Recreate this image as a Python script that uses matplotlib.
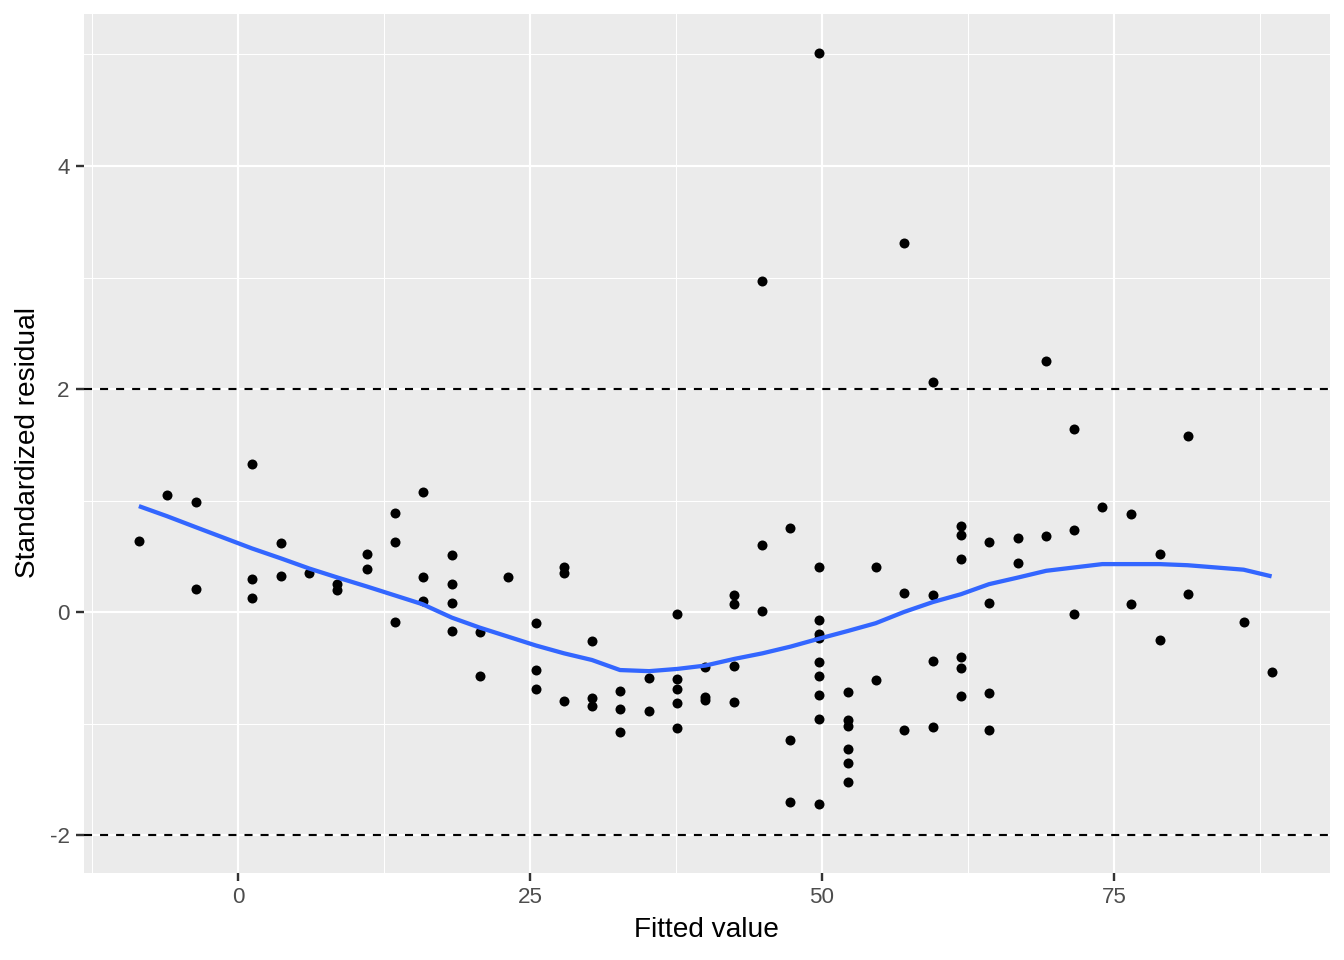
import numpy as np
import matplotlib
matplotlib.use("Agg")
import matplotlib.pyplot as plt
from matplotlib.ticker import FixedLocator

plt.rcParams['font.family'] = ['Liberation Sans', 'DejaVu Sans']
plt.rcParams['axes.unicode_minus'] = False

# residuals grouped by fitted value
fitted_levels = [-8.5, -6.1, -3.6, 1.2, 3.7, 6.1, 8.5, 11.0, 13.4, 15.8, 18.3, 20.7,
                 23.1, 25.5, 27.9, 30.3, 32.7, 35.2, 37.6, 40.0, 42.5, 44.9, 47.3,
                 49.7, 52.2, 54.6, 57.0, 59.5, 61.9, 64.3, 66.8, 69.2, 71.6, 74.0,
                 76.5, 78.9, 81.3, 86.1, 88.5]
residuals = [
    [0.64],
    [1.05],
    [0.99, 0.21],
    [1.33, 0.30, 0.13],
    [0.62, 0.32],
    [0.35],
    [0.25, 0.20],
    [0.52, 0.39],
    [0.89, 0.63, -0.09],
    [1.08, 0.31, 0.10],
    [0.51, 0.25, 0.08, -0.17],
    [-0.18, -0.57],
    [0.31],
    [-0.10, -0.52, -0.69],
    [0.40, 0.35, -0.80],
    [-0.26, -0.77, -0.84],
    [-0.71, -0.87, -1.08],
    [-0.59, -0.89],
    [-0.02, -0.60, -0.69, -0.82, -1.04],
    [-0.49, -0.76, -0.79],
    [0.15, 0.07, -0.48, -0.81],
    [2.97, 0.60, 0.01],
    [0.75, -1.15, -1.70],
    [5.01, 0.40, -0.07, -0.20, -0.23, -0.45, -0.57, -0.74, -0.96, -1.72],
    [-0.72, -0.97, -1.02, -1.23, -1.35, -1.52],
    [0.40, -0.61],
    [3.31, 0.17, -1.06],
    [2.06, 0.15, -0.44, -1.03],
    [0.77, 0.69, 0.48, -0.40, -0.50, -0.75],
    [0.63, 0.08, -0.73, -1.06],
    [0.66, 0.44],
    [2.25, 0.68],
    [1.64, 0.74, -0.02],
    [0.94],
    [0.88, 0.07],
    [0.52, -0.25],
    [1.58, 0.16],
    [-0.09],
    [-0.54],
]

# loess smooth, read at the same fitted values
smooth = [0.95, 0.86, 0.76, 0.57, 0.48, 0.39, 0.31, 0.23, 0.15, 0.07, -0.05, -0.14,
          -0.22, -0.30, -0.37, -0.43, -0.52, -0.53, -0.51, -0.48, -0.42, -0.37, -0.31,
          -0.24, -0.17, -0.10, 0.00, 0.09, 0.16, 0.25, 0.31, 0.37, 0.40, 0.43,
          0.43, 0.43, 0.42, 0.38, 0.32]

ref_lines = [-2, 2]

fitted = []
resid = []
for fv, rs in zip(fitted_levels, residuals):
    for r in rs:
        fitted.append(fv)
        resid.append(r)

fig = plt.figure(figsize=(1344 / 144, 960 / 144), dpi=144)
ax = fig.add_axes([84 / 1344, 1 - 873 / 960, (1330 - 84) / 1344, (873 - 14) / 960])
ax.set_facecolor('#EBEBEB')

ax.set_xlim(-13.2, 93.5)
ax.set_ylim(-2.34, 5.363)

ax.xaxis.set_major_locator(FixedLocator([0, 25, 50, 75]))
ax.xaxis.set_minor_locator(FixedLocator([-12.5, 12.5, 37.5, 62.5, 87.5]))
ax.yaxis.set_major_locator(FixedLocator([-2, 0, 2, 4]))
ax.yaxis.set_minor_locator(FixedLocator([-1, 1, 3, 5]))

ax.grid(which='major', color='white', linewidth=1.07)
ax.grid(which='minor', color='white', linewidth=0.53)
ax.set_axisbelow(True)
for s in ax.spines.values():
    s.set_visible(False)

ax.tick_params(which='major', length=4, width=1.2, color='#333333',
               labelsize=11.2, labelcolor='#4D4D4D', pad=3.2)
ax.tick_params(which='minor', length=0)

for y in ref_lines:
    ax.axhline(y, color='black', linewidth=1.07, dashes=(3.75, 3.75))

ax.plot(fitted, resid, 'o', color='black', markersize=5, markeredgewidth=0)
ax.plot(fitted_levels, smooth, color='#3366FF', linewidth=2.13, solid_capstyle='butt')

ax.set_xlabel('Fitted value', fontsize=14, color='black')
ax.set_ylabel('Standardized residual', fontsize=14, color='black')
ax.xaxis.label.set_va('center')
ax.yaxis.label.set_va('center')
ax.xaxis.set_label_coords((706 - 84) / 1246, (873 - 930) / 859)
ax.yaxis.set_label_coords((28 - 84) / 1246, (873 - 443) / 859)

fig.savefig('out.png', dpi=144)
